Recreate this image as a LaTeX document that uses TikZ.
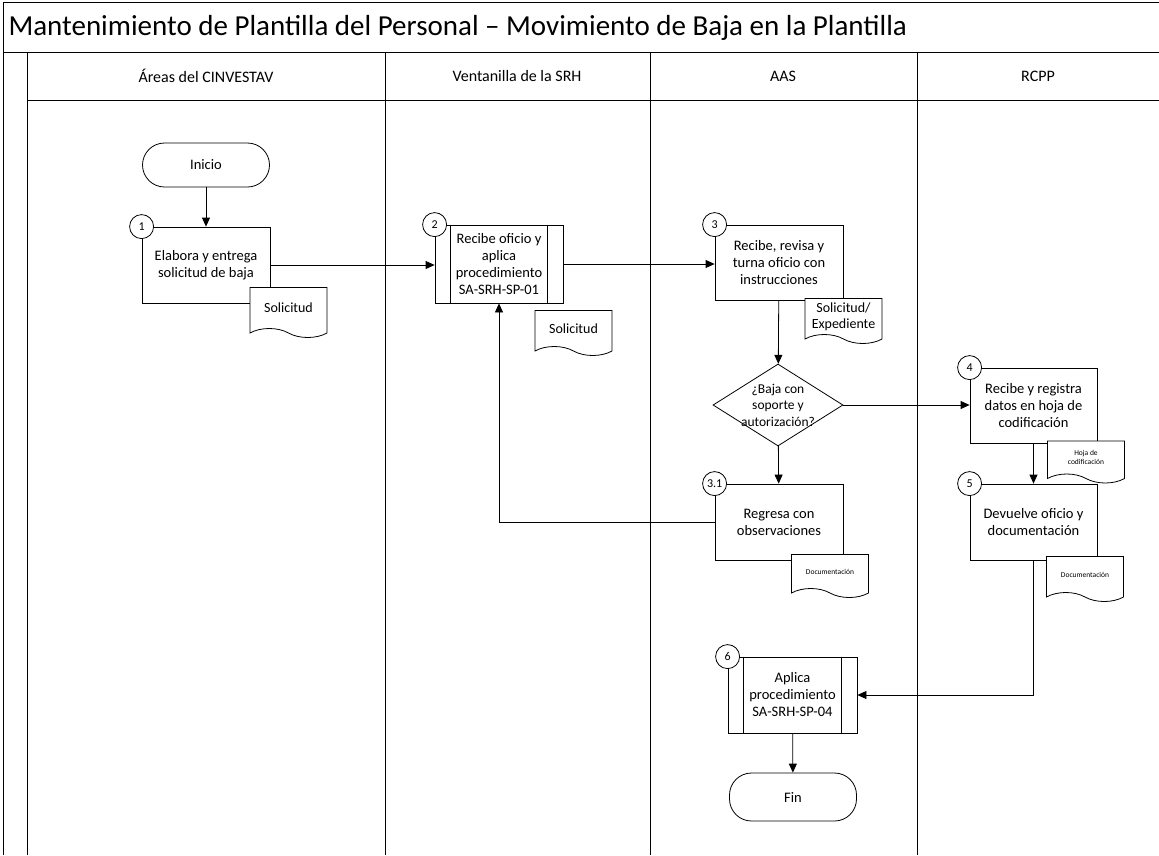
\documentclass[tikz,border=0pt]{standalone}
\usepackage{fontspec}
\setmainfont{Carlito}
\usetikzlibrary{positioning,arrows.meta,shapes.geometric,shapes.symbols,calc}
\tikzset{
  caja/.style={rectangle, draw, fill=white, line width=0.8pt, align=center,
    minimum width=128pt, minimum height=77pt, font=\fontsize{14.5}{17}\selectfont},
  terminal/.style={rectangle, rounded corners=22pt, draw, fill=white, line width=0.8pt,
    minimum width=127pt, minimum height=44pt, font=\fontsize{14.5}{17}\selectfont},
  decision/.style={diamond, draw, fill=white, line width=0.8pt, inner sep=-10pt, aspect=1.585,
    align=center, minimum width=130pt, minimum height=82pt, font=\fontsize{13.5}{16.5}\selectfont},
  documento/.style={tape, tape bend top=none, tape bend bottom=out and in, tape bend height=9pt,
    draw, fill=white, line width=0.8pt, align=center, minimum width=77pt, minimum height=45pt,
    font=\fontsize{14}{16}\selectfont},
  docchico/.style={documento, font=\fontsize{7.5}{9}\selectfont},
  numero/.style={circle, draw, fill=white, line width=0.8pt, minimum size=24pt, inner sep=0pt,
    font=\fontsize{12}{14}\selectfont},
  carril/.style={font=\fontsize{16}{19}\selectfont},
  linea/.style={line width=0.8pt},
  flecha/.style={-{Triangle[length=9pt,width=8pt]}, line width=0.8pt},
}
\begin{document}
\begin{tikzpicture}[x=1pt,y=-1pt]
  \useasboundingbox (0,0) rectangle (1159,855);
  \draw[linea] (1159,2) -- (3,2) -- (3,855);
  \draw[linea] (3,52) -- (1159,52);
  \draw[linea] (27,100) -- (1159,100);
  \foreach \x in {27,385,650,917} \draw[linea] (\x,52) -- (\x,855);
  \node[anchor=west, font=\fontsize{29}{33}\selectfont] (titulo) at (5,28)
    {Mantenimiento de Plantilla del Personal -- Movimiento de Baja en la Plantilla};
  \node[carril] (hAreas) at (206,76) {Áreas del CINVESTAV};
  \node[carril] (hVent) at (517,76) {Ventanilla de la SRH};
  \node[carril] (hAAS) at (783,76) {AAS};
  \node[carril] (hRCPP) at (1038,76) {RCPP};

  \node[terminal] (ini) at (206,165) {Inicio};
  \node[caja, minimum height=76pt] (n1) at (206,265) {Elabora y entrega\\solicitud de baja};
  \node[caja, minimum height=78pt] (n2) at (499,264) {Recibe oficio y\\aplica\\procedimiento\\SA-SRH-SP-01};
  \node[caja, minimum height=75pt] (n3) at (779,262.5) {Recibe, revisa y\\turna oficio con\\instrucciones};
  \node[decision] (dec) at (778,405) {¿Baja con\\soporte y\\autorización?};
  \node[caja, minimum width=127pt, minimum height=75pt] (n4) at (1033.5,405.5) {Recibe y registra\\datos en hoja de\\codificación};
  \node[caja, minimum height=76pt] (n31) at (779,522) {Regresa con\\observaciones};
  \node[caja, minimum width=127pt, minimum height=76pt] (n5) at (1033.5,522) {Devuelve oficio y\\documentación};
  \node[caja, minimum width=129pt, minimum height=76pt] (n6) at (792.5,695) {Aplica\\procedimiento\\SA-SRH-SP-04};
  \node[terminal, minimum height=48pt] (fin) at (793,797) {Fin};

  \foreach \n in {n2,n6} {
    \draw[linea] ($(\n.north west)+(16,0)$) -- ($(\n.south west)+(16,0)$);
    \draw[linea] ($(\n.north east)+(-16,0)$) -- ($(\n.south east)+(-16,0)$);
  }

  \node[numero] (c1) at (n1.north west) {1};
  \node[numero] (c2) at (n2.north west) {2};
  \node[numero] (c3) at (n3.north west) {3};
  \node[numero] (c4) at (n4.north west) {4};
  \node[numero] (c31) at (n31.north west) {3.1};
  \node[numero] (c5) at (n5.north west) {5};
  \node[numero] (c6) at (n6.north west) {6};

  \node[documento, minimum height=50pt] (d1) at (288.5,308) {Solicitud};
  \node[documento] (d2) at (573.5,328.5) {Solicitud};
  \node[documento] (d3) at (843.5,316.5) {Solicitud/\\Expediente};
  \node[docchico, minimum height=42pt] (d4) at (1086,457.5) {Hoja de\\codificación};
  \node[docchico, minimum height=43pt] (d31) at (830,571.5) {Documentación};
  \node[docchico] (d5) at (1085,574.5) {Documentación};

  \draw[flecha] (ini) -- (n1);
  \draw[flecha] (n1.east) -- (n1.east -| n2.west);
  \draw[flecha] (n2.east) -- (n2.east -| n3.west);
  \draw[flecha] (n3) -- (dec);
  \draw[flecha] (dec.east) -- (dec.east -| n4.west);
  \draw[flecha] (dec) -- (n31);
  \draw[flecha] (n4) -- (n5);
  \draw[flecha] (n31.west) -| (n2.south);
  \draw[flecha] (n5.south) |- (n6.east);
  \draw[flecha] (n6) -- (fin);
\end{tikzpicture}
\end{document}
